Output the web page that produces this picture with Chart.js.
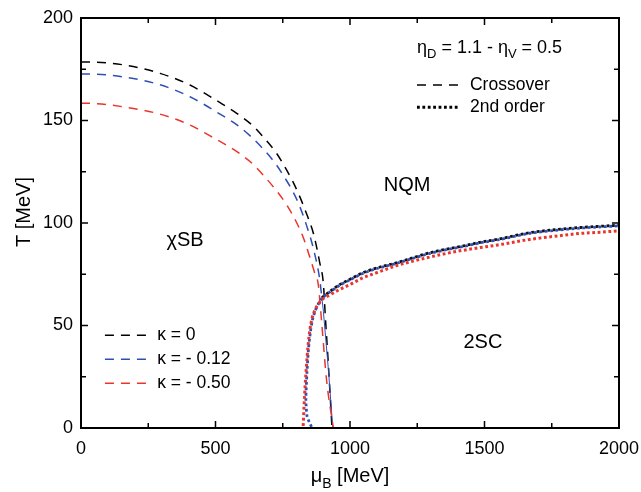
<!DOCTYPE html>
<html>
<head>
<meta charset="utf-8">
<script src="https://cdn.jsdelivr.net/npm/chart.js@4.4.1/dist/chart.umd.min.js"></script>
<style>
html,body{margin:0;padding:0;background:#fff;}
#wrap{width:641px;height:492px;}
</style>
</head>
<body>
<div id="wrap"><canvas id="myChart" width="641" height="492"></canvas></div>
<script>
// crossover lines (dashed), mu_B [MeV] and T [MeV]
const muCrossK0 = [0, 21, 170, 294, 405, 517, 579, 641, 684, 727, 758, 789, 816, 840, 864, 888, 901, 908, 920, 933];
const tCrossK0  = [178.5, 178.5, 176.9, 173, 167.3, 158.7, 153.5, 147.2, 141, 134, 127.3, 119.8, 112, 104, 94.9, 80.3, 70.5, 55, 30, 0];

const muCrossK012 = [0, 21, 170, 294, 405, 517, 572, 628, 678, 721, 758, 789, 811, 839, 864, 888, 895];
const tCrossK012  = [172.7, 172.7, 171, 167.4, 161.6, 153.1, 148.6, 142.6, 136, 129.3, 122, 115, 108.8, 98.6, 87.5, 72, 64];
// lower part of the kappa=-0.12 line is drawn thin and solid
const muLowK012 = [895, 901, 920, 936];
const tLowK012  = [64, 57, 28, 0];

const muCrossK050 = [0, 21, 170, 294, 405, 480, 585, 641, 684, 727, 765, 800, 826, 851, 868, 882, 895, 913, 938];
const tCrossK050  = [158.4, 158.4, 156.4, 153.1, 147.8, 142.5, 134.3, 128.5, 122.4, 115.7, 108.8, 100.6, 93, 83.2, 76, 70, 51, 23.3, 0];

// second order lines (dotted)
const muSecK050 = [826, 829, 833, 838, 844, 851, 858, 868, 880, 895, 926, 960, 1000, 1049, 1100, 1173, 1235, 1297, 1360, 1421, 1483, 1550, 1669, 1760, 1855, 1930, 2000];
const tSecK050  = [1, 10, 20, 30, 40, 48, 53, 57, 60, 62.5, 65, 67.5, 70, 73.3, 75.8, 79.2, 81.4, 83.4, 85.2, 86.7, 88, 89.3, 92, 93.5, 94.9, 95.5, 96.2];

const muSecK012 = [857, 848, 840, 836, 840, 846, 853, 860, 870, 882, 896, 926, 960, 1000, 1049, 1100, 1173, 1235, 1297, 1360, 1421, 1483, 1550, 1669, 1760, 1855, 1930, 2000];
const tSecK012  = [0.5, 3, 6, 14, 27, 39, 47, 52.5, 57, 60.5, 63.3, 66.4, 69.5, 72.3, 75.5, 77.8, 80.3, 82.8, 85.2, 87, 88.5, 90.3, 91.8, 95, 96.4, 97.5, 98.1, 98.6];

const muSecK0 = [896, 926, 960, 1000, 1049, 1100, 1173, 1235, 1297, 1360, 1421, 1483, 1550, 1669, 1760, 1855, 1930, 2000];
const tSecK0  = [63.6, 66.7, 69.8, 72.6, 75.8, 78.1, 80.6, 83.1, 85.5, 87.3, 88.8, 90.6, 92.1, 95.3, 96.7, 97.8, 98.4, 98.9];

const xTicks = [0, 500, 1000, 1500, 2000];
const yTicks = [0, 50, 100, 150, 200];

const legendLabels = ['\u03ba = 0', '\u03ba = - 0.12', '\u03ba = - 0.50'];
const regionLabels = [
    {text: '\u03c7SB', mu: 387, t: 91.6},
    {text: 'NQM', mu: 1212, t: 118.4},
    {text: '2SC', mu: 1494, t: 41.8}
];

const BLUE = '#2f4fb5';
const RED = '#e8362d';
const FONT = '"Liberation Sans", Arial, Helvetica, sans-serif';

function pts(mu, t) {
    return mu.map((m, i) => ({x: m, y: t[i]}));
}

function dashed(mu, t, color, order) {
    return {data: pts(mu, t), borderColor: color, borderWidth: 1.5, borderDash: [9, 7],
        pointRadius: 0, cubicInterpolationMode: 'monotone', fill: false, order: order};
}
function dotted(mu, t, color, width, order, mono) {
    const ds = {data: pts(mu, t), borderColor: color, borderWidth: width, borderDash: [2.8, 2.6],
        borderCapStyle: 'butt', pointRadius: 0, fill: false, order: order};
    if (mono) ds.cubicInterpolationMode = 'monotone';
    else ds.tension = 0.25;
    return ds;
}

function textWithSubs(ctx, parts, x, y, size) {
    // parts: [text, isSub]
    let cx = x;
    for (const p of parts) {
        if (p[1]) {
            ctx.font = Math.round(size * 0.72) + 'px ' + FONT;
            ctx.fillText(p[0], cx, y + size * 0.28);
        } else {
            ctx.font = size + 'px ' + FONT;
            ctx.fillText(p[0], cx, y);
        }
        cx += ctx.measureText(p[0]).width;
    }
    return cx - x;
}
function widthWithSubs(ctx, parts, size) {
    let w = 0;
    for (const p of parts) {
        ctx.font = (p[1] ? Math.round(size * 0.72) : size) + 'px ' + FONT;
        w += ctx.measureText(p[0]).width;
    }
    return w;
}

const decorations = {
    id: 'decorations',
    afterDatasetsDraw(chart) {
        const ctx = chart.ctx;
        const a = chart.chartArea;
        const xs = chart.scales.x, ys = chart.scales.y;
        ctx.save();
        ctx.strokeStyle = '#000';
        ctx.fillStyle = '#000';

        // frame
        ctx.lineWidth = 2;
        ctx.strokeRect(a.left, a.top, a.right - a.left, a.bottom - a.top);

        // inward ticks, major and minor, on all four sides
        ctx.lineWidth = 1.5;
        ctx.beginPath();
        for (let v = 0; v <= 2000; v += 250) {
            const px = xs.getPixelForValue(v);
            const len = v % 500 === 0 ? 7 : 5;
            ctx.moveTo(px, a.bottom); ctx.lineTo(px, a.bottom - len);
            ctx.moveTo(px, a.top); ctx.lineTo(px, a.top + len);
        }
        for (let v = 0; v <= 200; v += 25) {
            const py = ys.getPixelForValue(v);
            const len = v % 50 === 0 ? 7 : 5;
            ctx.moveTo(a.left, py); ctx.lineTo(a.left + len, py);
            ctx.moveTo(a.right, py); ctx.lineTo(a.right - len, py);
        }
        ctx.stroke();

        // region labels
        ctx.font = '20px ' + FONT;
        ctx.textAlign = 'center';
        ctx.textBaseline = 'middle';
        for (const r of regionLabels) {
            ctx.fillText(r.text, xs.getPixelForValue(r.mu), ys.getPixelForValue(r.t));
        }

        // kappa legend, bottom left
        const kColors = ['#000', BLUE, RED];
        const kRows = [45.2, 33.5, 21.8];
        ctx.textAlign = 'left';
        for (let i = 0; i < 3; i++) {
            const py = ys.getPixelForValue(kRows[i]);
            ctx.strokeStyle = kColors[i];
            ctx.lineWidth = 1.5;
            ctx.setLineDash([9, 7]);
            ctx.beginPath();
            ctx.moveTo(xs.getPixelForValue(89), py);
            ctx.lineTo(xs.getPixelForValue(245), py);
            ctx.stroke();
            ctx.setLineDash([]);
            ctx.font = '17.5px ' + FONT;
            ctx.fillText(legendLabels[i], xs.getPixelForValue(283), py);
        }

        // top right annotation and line style legend
        ctx.textBaseline = 'alphabetic';
        textWithSubs(ctx, [['\u03b7', 0], ['D', 1], [' = 1.1 - \u03b7', 0], ['V', 1], [' = 0.5', 0]],
            xs.getPixelForValue(1249), ys.getPixelForValue(182.9), 18);
        ctx.textBaseline = 'middle';
        ctx.strokeStyle = '#000';
        let py = ys.getPixelForValue(167.3);
        ctx.lineWidth = 1.5;
        ctx.setLineDash([9, 7]);
        ctx.beginPath();
        ctx.moveTo(xs.getPixelForValue(1249), py);
        ctx.lineTo(xs.getPixelForValue(1405), py);
        ctx.stroke();
        ctx.font = '17.5px ' + FONT;
        ctx.fillText('Crossover', xs.getPixelForValue(1446), py);
        py = ys.getPixelForValue(156.5);
        ctx.lineWidth = 3;
        ctx.setLineDash([2.8, 2.6]);
        ctx.beginPath();
        ctx.moveTo(xs.getPixelForValue(1249), py);
        ctx.lineTo(xs.getPixelForValue(1405), py);
        ctx.stroke();
        ctx.setLineDash([]);
        ctx.fillText('2nd order', xs.getPixelForValue(1446), py);

        // axis titles
        ctx.textBaseline = 'alphabetic';
        const xParts = [['\u03bc', 0], ['B', 1], [' [MeV]', 0]];
        const w = widthWithSubs(ctx, xParts, 20);
        textWithSubs(ctx, xParts, (a.left + a.right) / 2 - w / 2, a.bottom + 54, 20);

        ctx.save();
        ctx.translate(a.left - 51, (a.top + a.bottom) / 2 - 11);
        ctx.rotate(-Math.PI / 2);
        ctx.font = '20px ' + FONT;
        ctx.textAlign = 'center';
        ctx.fillText('T [MeV]', 0, 0);
        ctx.restore();

        ctx.restore();
    }
};

const ctx = document.getElementById('myChart').getContext('2d');
const chart = new Chart(ctx, {
    type: 'line',
    data: {
        datasets: [
            dashed(muCrossK0, tCrossK0, '#000', 9),
            dashed(muCrossK012, tCrossK012, BLUE, 8),
            {data: pts(muLowK012, tLowK012), borderColor: BLUE, borderWidth: 1, pointRadius: 0, tension: 0, fill: false, order: 7},
            dashed(muCrossK050, tCrossK050, RED, 6),
            dotted(muSecK0, tSecK0, '#111', 2.8, 5, true),
            dotted(muSecK012, tSecK012, BLUE, 2.8, 4, false),
            dotted(muSecK050, tSecK050, RED, 3, 3, true)
        ]
    },
    options: {
        responsive: false,
        animation: false,
        devicePixelRatio: 1,
        layout: {padding: {top: 18, right: 22, left: 0, bottom: 0}},
        plugins: {legend: {display: false}, tooltip: {enabled: false}},
        scales: {
            x: {
                type: 'linear', min: 0, max: 2000,
                afterBuildTicks: (s) => { s.ticks = xTicks.map(v => ({value: v})); },
                afterFit: (s) => { s.height = 64; s.paddingLeft = 0; s.paddingRight = 0; },
                grid: {display: false, drawTicks: false},
                border: {display: false},
                ticks: {color: '#000', padding: 10, maxRotation: 0, font: {family: FONT, size: 18},
                    callback: (v) => String(v)}
            },
            y: {
                type: 'linear', min: 0, max: 200,
                afterBuildTicks: (s) => { s.ticks = yTicks.map(v => ({value: v})); },
                afterFit: (s) => { s.width = 81; s.paddingTop = 0; s.paddingBottom = 0; },
                grid: {display: false, drawTicks: false},
                border: {display: false},
                ticks: {color: '#000', padding: 8, font: {family: FONT, size: 18},
                    callback: (v) => String(v)}
            }
        }
    },
    plugins: [decorations]
});
</script>
</body>
</html>
